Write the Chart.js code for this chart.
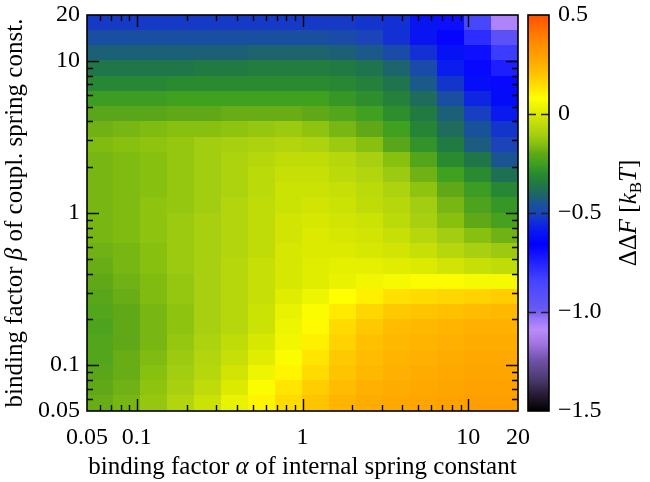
<!DOCTYPE html>
<html lang="en">
<head>
<meta charset="utf-8">
<script src="https://cdn.jsdelivr.net/npm/chart.js@4.4.0/dist/chart.umd.min.js"></script>
<style>
  body { margin: 0; background: #fff; }
</style>
</head>
<body>
<canvas id="chart" width="650" height="482"></canvas>
<script>
// alpha = binding factor of internal spring constant (cell centres, log spaced)
const alphaVals = [0.0603, 0.0877, 0.1275, 0.1854, 0.2696, 0.392, 0.570, 0.829,
                   1.206, 1.753, 2.549, 3.707, 5.39, 7.84, 11.40, 16.58];
// beta = binding factor of coupling spring constant (rows, top to bottom)
const betaVals = [17.7, 14.1, 11.2, 8.89, 7.06, 5.61, 4.46, 3.54, 2.81, 2.23, 1.77, 1.41, 1.12,
                  0.889, 0.706, 0.561, 0.446, 0.354, 0.281, 0.223, 0.177, 0.141, 0.112, 0.0889, 0.0706, 0.0561];
// Delta Delta F in kT, one row per beta, one column per alpha
const dF = [
  [-0.52,-0.52,-0.52,-0.52,-0.52,-0.52,-0.52,-0.52,-0.52,-0.52,-0.53,-0.54,-0.60,-0.70,-0.86,-1.07],
  [-0.47,-0.47,-0.47,-0.47,-0.47,-0.47,-0.47,-0.47,-0.47,-0.48,-0.50,-0.54,-0.60,-0.67,-0.78,-0.93],
  [-0.42,-0.42,-0.42,-0.42,-0.42,-0.42,-0.41,-0.41,-0.41,-0.42,-0.44,-0.48,-0.54,-0.61,-0.70,-0.82],
  [-0.36,-0.36,-0.36,-0.36,-0.35,-0.35,-0.34,-0.34,-0.34,-0.35,-0.37,-0.41,-0.48,-0.58,-0.68,-0.74],
  [-0.31,-0.31,-0.31,-0.30,-0.30,-0.30,-0.30,-0.30,-0.30,-0.31,-0.33,-0.37,-0.44,-0.53,-0.62,-0.68],
  [-0.26,-0.26,-0.26,-0.25,-0.25,-0.25,-0.25,-0.25,-0.25,-0.27,-0.29,-0.33,-0.39,-0.47,-0.56,-0.63],
  [-0.21,-0.21,-0.21,-0.20,-0.20,-0.19,-0.19,-0.19,-0.20,-0.22,-0.25,-0.29,-0.35,-0.42,-0.51,-0.59],
  [-0.18,-0.17,-0.16,-0.15,-0.15,-0.14,-0.13,-0.12,-0.14,-0.17,-0.20,-0.25,-0.32,-0.39,-0.46,-0.53],
  [-0.16,-0.15,-0.14,-0.13,-0.11,-0.10,-0.09,-0.08,-0.09,-0.12,-0.15,-0.21,-0.28,-0.35,-0.43,-0.50],
  [-0.17,-0.16,-0.15,-0.13,-0.11,-0.09,-0.07,-0.05,-0.05,-0.07,-0.10,-0.15,-0.22,-0.30,-0.36,-0.45],
  [-0.17,-0.16,-0.15,-0.13,-0.11,-0.09,-0.06,-0.04,-0.04,-0.06,-0.08,-0.12,-0.18,-0.25,-0.30,-0.38],
  [-0.17,-0.16,-0.15,-0.13,-0.11,-0.09,-0.06,-0.03,-0.03,-0.04,-0.06,-0.09,-0.14,-0.20,-0.26,-0.31],
  [-0.17,-0.16,-0.14,-0.13,-0.11,-0.08,-0.05,-0.03,-0.02,-0.03,-0.05,-0.07,-0.11,-0.17,-0.23,-0.27],
  [-0.17,-0.16,-0.14,-0.12,-0.10,-0.08,-0.05,-0.02,-0.01,-0.02,-0.03,-0.06,-0.10,-0.15,-0.20,-0.24],
  [-0.17,-0.16,-0.14,-0.12,-0.10,-0.08,-0.05,-0.02, 0.00,-0.01,-0.02,-0.04,-0.07,-0.11,-0.15,-0.18],
  [-0.18,-0.17,-0.15,-0.12,-0.10,-0.08,-0.05,-0.01, 0.00, 0.00,-0.01,-0.02,-0.04,-0.07,-0.10,-0.12],
  [-0.19,-0.17,-0.15,-0.12,-0.10,-0.07,-0.04,-0.01, 0.01, 0.02, 0.02, 0.01, 0.00,-0.02,-0.04,-0.05],
  [-0.20,-0.18,-0.16,-0.13,-0.10,-0.07,-0.04,-0.01, 0.01, 0.03, 0.05, 0.06, 0.07, 0.07, 0.06, 0.06],
  [-0.21,-0.19,-0.16,-0.13,-0.10,-0.07,-0.04, 0.01, 0.04, 0.08, 0.11, 0.14, 0.15, 0.16, 0.17, 0.18],
  [-0.22,-0.20,-0.17,-0.14,-0.10,-0.07,-0.03, 0.03, 0.07, 0.12, 0.16, 0.19, 0.20, 0.21, 0.22, 0.23],
  [-0.23,-0.20,-0.17,-0.14,-0.10,-0.07,-0.03, 0.04, 0.09, 0.15, 0.19, 0.22, 0.23, 0.24, 0.25, 0.25],
  [-0.22,-0.20,-0.17,-0.13,-0.09,-0.05,-0.01, 0.05, 0.11, 0.17, 0.21, 0.23, 0.24, 0.25, 0.26, 0.26],
  [-0.22,-0.19,-0.16,-0.12,-0.08,-0.04, 0.01, 0.07, 0.13, 0.19, 0.22, 0.24, 0.25, 0.26, 0.27, 0.27],
  [-0.21,-0.19,-0.15,-0.11,-0.07,-0.02, 0.04, 0.10, 0.15, 0.20, 0.23, 0.25, 0.26, 0.27, 0.28, 0.28],
  [-0.20,-0.18,-0.14,-0.10,-0.05, 0.00, 0.07, 0.13, 0.18, 0.22, 0.25, 0.26, 0.27, 0.28, 0.29, 0.29],
  [-0.19,-0.17,-0.13,-0.08,-0.03, 0.03, 0.10, 0.15, 0.20, 0.24, 0.26, 0.27, 0.28, 0.29, 0.30, 0.30]
];
const xTicks = [0.05, 0.1, 1, 10, 20];
const yTicks = [0.05, 0.1, 1, 10, 20];
const majorTicks = [0.1, 1, 10];
const cbTicks = [-1.5, -1, -0.5, 0, 0.5];
const cbDashes = [-1, -0.5, 0];

// colour map (value -> colour)
const palette = [
  [-1.50, '#000000'], [-1.42, '#281a34'], [-1.34, '#4a3a6c'], [-1.24, '#7252aa'],
  [-1.16, '#a274e2'], [-1.09, '#ba8cfa'], [-1.03, '#9474f8'], [-0.99, '#6a5af2'],
  [-0.84, '#4444ff'], [-0.66, '#0000ff'], [-0.58, '#0a1cee'], [-0.50, '#1a44b8'],
  [-0.45, '#1a5592'], [-0.40, '#1e6862'], [-0.35, '#217a42'], [-0.30, '#2a8a30'],
  [-0.25, '#40a020'], [-0.20, '#60a818'], [-0.15, '#88c010'], [-0.10, '#a8d010'],
  [-0.05, '#c0dc08'], [ 0.00, '#dcea00'], [ 0.08, '#ffff00'], [ 0.14, '#ffe000'],
  [ 0.20, '#ffc400'], [ 0.27, '#ffa800'], [ 0.37, '#ff8800'], [ 0.50, '#ff5000']
];

const FONT = '"Liberation Serif", "Times New Roman", serif';
const TICKFONT = 24;
const TITLEFONT = 25;

function hexRgb(h) {
  return [parseInt(h.substr(1, 2), 16), parseInt(h.substr(3, 2), 16), parseInt(h.substr(5, 2), 16)];
}
const pal = palette.map(p => [p[0], hexRgb(p[1])]);

function colorFor(v) {
  if (v <= pal[0][0]) return 'rgb(' + pal[0][1].join(',') + ')';
  for (let k = 1; k < pal.length; k++) {
    if (v <= pal[k][0]) {
      const t = (v - pal[k - 1][0]) / (pal[k][0] - pal[k - 1][0]);
      const c = pal[k - 1][1].map((c0, n) => Math.round(c0 + t * (pal[k][1][n] - c0)));
      return 'rgb(' + c.join(',') + ')';
    }
  }
  return 'rgb(' + pal[pal.length - 1][1].join(',') + ')';
}

// cell edges: geometric midpoints between neighbouring centres, axis limits at the ends
function edges(vals, lo, hi) {
  const e = [lo];
  for (let i = 1; i < vals.length; i++) e.push(Math.sqrt(vals[i - 1] * vals[i]));
  e.push(hi);
  return e;
}
const alphaEdges = edges(alphaVals, 0.05, 20);
const betaEdges = edges(betaVals, 20, 0.05);

// minor tick positions on the log axes
const minorTicks = [];
[0.01, 0.1, 1, 10].forEach(d => {
  for (let m = 2; m <= 9; m++) {
    const v = +(m * d).toPrecision(3);
    if (v > 0.05 && v < 20) minorTicks.push(v);
  }
});

const points = [];
betaVals.forEach((b, j) => alphaVals.forEach((a, i) => points.push({ x: a, y: b, v: dF[j][i] })));

const heatmap = {
  id: 'heatmap',
  beforeDatasetsDraw(chart) {
    const { ctx, chartArea: ca, scales } = chart;
    const sx = scales.x, sy = scales.y;
    ctx.save();
    ctx.beginPath();
    ctx.rect(ca.left, ca.top, ca.right - ca.left, ca.bottom - ca.top);
    ctx.clip();
    for (let j = 0; j < betaVals.length; j++) {
      const y0 = Math.floor(sy.getPixelForValue(betaEdges[j]));
      const y1 = Math.ceil(sy.getPixelForValue(betaEdges[j + 1]));
      for (let i = 0; i < alphaVals.length; i++) {
        const x0 = Math.floor(sx.getPixelForValue(alphaEdges[i]));
        const x1 = Math.ceil(sx.getPixelForValue(alphaEdges[i + 1]));
        ctx.fillStyle = colorFor(dF[j][i]);
        ctx.fillRect(x0, y0, x1 - x0, y1 - y0);
      }
    }
    ctx.restore();
  },
  afterDraw(chart) {
    const { ctx, chartArea: ca, scales } = chart;
    const sx = scales.x, sy = scales.y, sc = scales.cb;
    ctx.save();
    ctx.strokeStyle = '#000';
    ctx.lineWidth = 1.4;

    // tick marks on all four sides, pointing inwards
    const tick = (v, len) => {
      const px = Math.round(sx.getPixelForValue(v)) + 0.5;
      ctx.beginPath();
      ctx.moveTo(px, ca.bottom); ctx.lineTo(px, ca.bottom - len);
      ctx.moveTo(px, ca.top); ctx.lineTo(px, ca.top + len);
      ctx.stroke();
    };
    const ytick = (v, len) => {
      const py = Math.round(sy.getPixelForValue(v)) + 0.5;
      ctx.beginPath();
      ctx.moveTo(ca.left, py); ctx.lineTo(ca.left + len, py);
      ctx.moveTo(ca.right, py); ctx.lineTo(ca.right - len, py);
      ctx.stroke();
    };
    majorTicks.forEach(v => { tick(v, 12); ytick(v, 12); });
    minorTicks.filter(v => !majorTicks.includes(v)).forEach(v => { tick(v, 6); ytick(v, 6); });
    ctx.lineWidth = 1.6;
    ctx.strokeRect(ca.left, ca.top, ca.right - ca.left, ca.bottom - ca.top);

    // colour box
    const bx0 = ca.right + 10, bx1 = ca.right + 31;
    const top = sc.getPixelForValue(0.5), bot = sc.getPixelForValue(-1.5);
    for (let py = Math.floor(top); py < Math.ceil(bot); py++) {
      ctx.fillStyle = colorFor(sc.getValueForPixel(py + 0.5));
      ctx.fillRect(bx0, py, bx1 - bx0, 1);
    }
    ctx.strokeStyle = '#222';
    ctx.lineWidth = 1.4;
    cbDashes.forEach(v => {
      const py = Math.round(sc.getPixelForValue(v)) + 0.5;
      ctx.beginPath();
      ctx.moveTo(bx0, py); ctx.lineTo(bx0 + 8, py);
      ctx.moveTo(bx1, py); ctx.lineTo(bx1 - 8, py);
      ctx.stroke();
    });
    ctx.strokeStyle = '#000';
    ctx.lineWidth = 1.6;
    ctx.strokeRect(bx0, top, bx1 - bx0, bot - top);

    // axis titles with italic symbols
    const rich = (parts, cx, cy, rot) => {
      ctx.save();
      ctx.translate(cx, cy);
      ctx.rotate(rot);
      ctx.fillStyle = '#000';
      ctx.textBaseline = 'alphabetic';
      ctx.textAlign = 'left';
      let w = 0;
      parts.forEach(p => { ctx.font = p.f; p.w = ctx.measureText(p.t).width; w += p.w; });
      let x = -w / 2;
      parts.forEach(p => { ctx.font = p.f; ctx.fillText(p.t, x, p.dy || 0); x += p.w; });
      ctx.restore();
    };
    const R = TITLEFONT + 'px ' + FONT, I = 'italic ' + TITLEFONT + 'px ' + FONT;
    rich([{ t: 'binding factor ', f: R }, { t: 'α', f: I }, { t: ' of internal spring constant', f: R }],
      (ca.left + ca.right) / 2, 474, 0);
    rich([{ t: 'binding factor ', f: R }, { t: 'β', f: I }, { t: ' of coupl. spring const.', f: R }],
      22, (ca.top + ca.bottom) / 2, -Math.PI / 2);
    rich([{ t: 'ΔΔ', f: R }, { t: 'F', f: I }, { t: ' [', f: R }, { t: 'k', f: I },
          { t: 'B', f: '17px ' + FONT, dy: 5 }, { t: 'T', f: I }, { t: ']', f: R }],
      636, (ca.top + ca.bottom) / 2, -Math.PI / 2);
    ctx.restore();
  }
};

// no label overhang padding: the plot box is placed by the fixed axis sizes
const noPad = s => { s.paddingTop = 0; s.paddingBottom = 0; s.paddingLeft = 0; s.paddingRight = 0; };

const ctx = document.getElementById('chart').getContext('2d');
const chart = new Chart(ctx, {
  type: 'scatter',
  data: {
    datasets: [{ data: points, pointRadius: 0, pointHoverRadius: 0 }]
  },
  options: {
    responsive: false,
    animation: false,
    devicePixelRatio: 1,
    layout: { autoPadding: false, padding: { top: 15, left: 0, right: 0, bottom: 0 } },
    plugins: { legend: { display: false }, tooltip: { enabled: false } },
    scales: {
      x: {
        type: 'logarithmic', min: 0.05, max: 20, position: 'bottom',
        grid: { display: false, drawTicks: false }, border: { display: false },
        afterBuildTicks: s => { s.ticks = xTicks.map(v => ({ value: v })); },
        afterFit: s => { s.height = 71; noPad(s); },
        ticks: {
          autoSkip: false, maxRotation: 0, minRotation: 0, padding: 12, color: '#000',
          font: { family: FONT, size: TICKFONT }, callback: v => String(v)
        }
      },
      y: {
        type: 'logarithmic', min: 0.05, max: 20, position: 'left',
        grid: { display: false, drawTicks: false }, border: { display: false },
        afterBuildTicks: s => { s.ticks = yTicks.map(v => ({ value: v })); },
        afterFit: s => { s.width = 87; noPad(s); },
        ticks: {
          autoSkip: false, padding: 7, color: '#000',
          font: { family: FONT, size: TICKFONT }, callback: v => String(v)
        }
      },
      cb: {
        type: 'linear', min: -1.5, max: 0.5, position: 'right',
        grid: { display: false, drawTicks: false }, border: { display: false },
        afterBuildTicks: s => { s.ticks = cbTicks.map(v => ({ value: v })); },
        afterFit: s => { s.width = 132; noPad(s); },
        ticks: {
          autoSkip: false, padding: 40, color: '#000',
          font: { family: FONT, size: TICKFONT },
          callback: v => v === 0 ? '0' : (v < 0 ? '\u2212' : '') + Math.abs(v).toFixed(1)
        }
      }
    }
  },
  plugins: [heatmap]
});
</script>
</body>
</html>
